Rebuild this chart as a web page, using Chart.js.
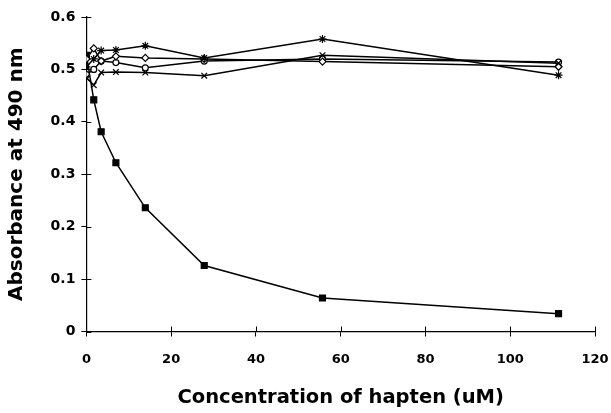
<!DOCTYPE html>
<html>
<head>
<meta charset="utf-8">
<script src="https://cdn.jsdelivr.net/npm/chart.js@4.4.1/dist/chart.umd.min.js"></script>
<style>
  html, body { margin: 0; padding: 0; background: #fff; }
  #wrap { width: 611px; height: 413px; }
</style>
</head>
<body>
<div id="wrap"><canvas id="c" width="611" height="413"></canvas></div>
<script>
// Data
const concentrations = [0, 1.74, 3.48, 6.96, 13.9, 27.8, 55.7, 111.4];
const squareSeries   = [0.527, 0.442, 0.381, 0.322, 0.236, 0.126, 0.064, 0.034];
const starSeries     = [0.505, 0.520, 0.536, 0.537, 0.545, 0.522, 0.558, 0.489];
const crossSeries    = [0.484, 0.470, 0.494, 0.495, 0.494, 0.488, 0.527, 0.512];
const diamondSeries  = [0.520, 0.540, 0.516, 0.525, 0.522, 0.520, 0.515, 0.505];
const circleSeries   = [0.490, 0.500, 0.516, 0.513, 0.503, 0.516, 0.520, 0.514];
const xTickValues = [0, 20, 40, 60, 80, 100, 120];
const yTickValues = [0, 0.1, 0.2, 0.3, 0.4, 0.5, 0.6];

const toPoints = vals => vals.map((v, i) => ({ x: concentrations[i], y: v }));

const FONT = "'DejaVu Sans', sans-serif";

const crossTicks = {
  id: 'crossTicks',
  afterDraw(chart) {
    const ctx = chart.ctx;
    const xs = chart.scales.x, ys = chart.scales.y;
    ctx.save();
    ctx.strokeStyle = '#000';
    ctx.lineWidth = 1;
    ctx.beginPath();
    xTickValues.forEach(v => {
      const px = Math.round(xs.getPixelForValue(v)) + 0.5;
      ctx.moveTo(px, ys.bottom);
      ctx.lineTo(px, ys.bottom - 5);
    });
    yTickValues.forEach(v => {
      const py = Math.round(ys.getPixelForValue(v)) + 0.5;
      ctx.moveTo(xs.left, py);
      ctx.lineTo(xs.left + 5, py);
    });
    ctx.stroke();
    ctx.restore();
  }
};

const common = {
  borderColor: '#000',
  borderWidth: 1.5,
  tension: 0,
  pointBorderColor: '#000',
  pointBorderWidth: 1.2,
  pointBackgroundColor: '#fff',
  pointRadius: 3.5,
  showLine: true
};

new Chart(document.getElementById('c'), {
  type: 'scatter',
  data: {
    datasets: [
      Object.assign({}, common, { label: 'star', data: toPoints(starSeries), pointStyle: 'star', pointRadius: 4 }),
      Object.assign({}, common, { label: 'cross', data: toPoints(crossSeries), pointStyle: 'crossRot', pointRadius: 4 }),
      Object.assign({}, common, { label: 'diamond', data: toPoints(diamondSeries), pointStyle: 'rectRot', pointRadius: 3.5 }),
      Object.assign({}, common, { label: 'circle', data: toPoints(circleSeries), pointStyle: 'circle', pointRadius: 3 }),
      Object.assign({}, common, { label: 'square', data: toPoints(squareSeries), pointStyle: 'rect', pointRadius: 4.2, pointBackgroundColor: '#000' })
    ]
  },
  options: {
    responsive: false,
    animation: false,
    devicePixelRatio: 1,
    layout: { padding: { left: 0, right: 16, top: 17, bottom: 0 } },
    plugins: { legend: { display: false }, tooltip: { enabled: false } },
    scales: {
      x: {
        type: 'linear',
        min: 0, max: 120,
        afterBuildTicks: s => { s.ticks = xTickValues.map(v => ({ value: v })); },
        afterFit: s => { s.height = 81.5; s.paddingLeft = 0; s.paddingRight = 0; },
        grid: { drawOnChartArea: false, drawTicks: true, tickLength: 5, color: '#000', lineWidth: 1 },
        border: { color: '#000', width: 1.2 },
        ticks: { color: '#000', padding: 15, font: { family: FONT, size: 13, weight: 'bold' }, maxRotation: 0 },
        title: { display: true, text: 'Concentration of hapten (uM)', color: '#000',
                 font: { family: FONT, size: 19.5, weight: 'bold' }, padding: { top: 0, bottom: 3 } }
      },
      y: {
        type: 'linear',
        min: 0, max: 0.6,
        afterBuildTicks: s => { s.ticks = yTickValues.map(v => ({ value: v })); },
        afterFit: s => { s.width = 86.4; s.paddingTop = 0; s.paddingBottom = 0; },
        grid: { drawOnChartArea: false, drawTicks: true, tickLength: 5, color: '#000', lineWidth: 1 },
        border: { color: '#000', width: 1.2 },
        ticks: { color: '#000', padding: 6, font: { family: FONT, size: 14, weight: 'bold' },
                 callback: v => (v === 0 ? '0' : v.toFixed(1)) },
        title: { display: true, text: 'Absorbance at 490 nm', color: '#000',
                 font: { family: FONT, size: 20, weight: 'bold' }, padding: { top: 5, bottom: 0 } }
      }
    }
  },
  plugins: [crossTicks]
});
</script>
</body>
</html>
